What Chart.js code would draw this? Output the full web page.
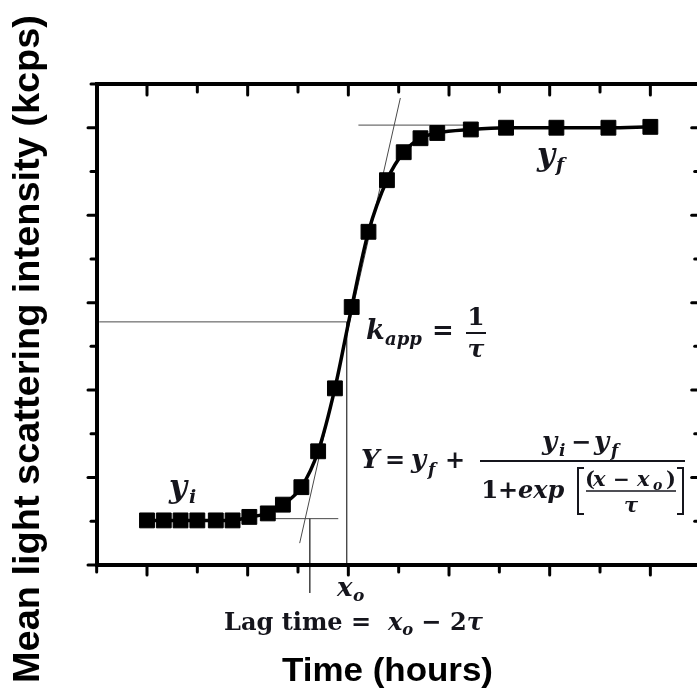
<!DOCTYPE html>
<html><head><meta charset="utf-8">
<script src="https://cdn.jsdelivr.net/npm/chart.js@4.4.1/dist/chart.umd.min.js"></script>
<style>html,body{margin:0;padding:0;background:#fff;}canvas{display:block;}</style>
</head><body>
<canvas id="c" width="697" height="692"></canvas>
<script>
// ---- data ----
const timeHours = [0, 1, 2, 3, 4.1, 5.1, 6.1, 7.2, 8.1, 9.2, 10.2, 11.2, 12.2, 13.2, 14.3, 15.3, 16.3, 17.3, 19.3, 21.4, 24.4, 27.5, 30];
const intensity = [0.51, 0.51, 0.51, 0.51, 0.51, 0.51, 0.55, 0.59, 0.69, 0.89, 1.30, 2.02, 2.95, 3.81, 4.40, 4.72, 4.88, 4.94, 4.98, 5.0, 5.0, 5.0, 5.01];
const xMajorTicks = [0, 6, 12, 18, 24, 30];
const xMinorTicks = [-3, 3, 9, 15, 21, 27, 33];
const yMajorTicks = [0, 1, 2, 3, 4, 5];
const yMinorTicks = [0.5, 1.5, 2.5, 3.5, 4.5, 5.5];
const xTitle = 'Time (hours)';
const yTitle = 'Mean light scattering intensity (kcps)';
// guide lines (data units)
const yfGuideX = [12.6, 19.3];
const yfGuideY = [5.03, 5.03];
const tangentX = [9.1, 15.1];
const tangentY = [0.25, 5.34];
const midGuideX = [-2.85, 11.9];
const midGuideY = [2.78, 2.78];
const x0GuideX = [11.9, 11.9];
const x0GuideY = [2.78, 0];
const yiGuideX = [7.5, 11.4];
const yiGuideY = [0.53, 0.53];
const lagGuideX = [9.7, 9.7];
const lagGuideY = [0.53, -0.32];

const pts = (xs, ys) => xs.map((v, i) => ({x: v, y: ys[i]}));
const guide = (xs, ys) => ({
  data: pts(xs, ys), borderColor: '#4a4a4a', borderWidth: 1, pointRadius: 0,
  tension: 0, clip: false, order: 2
});

const SERIF = '"DejaVu Serif", "Liberation Serif", serif';
const INK = '#15151c';

const textPlugin = {
  id: 'deco',
  afterDatasetsDraw(chart) {
    const {ctx, chartArea: a, scales: {x, y}} = chart;
    ctx.save();
    const ln = (x1, y1, x2, y2) => { ctx.beginPath(); ctx.moveTo(x1, y1); ctx.lineTo(x2, y2); ctx.stroke(); };
    ctx.strokeStyle = '#000';
    // ticks
    ctx.lineWidth = 3; ctx.lineCap = 'round';
    const xr = x.getPixelForValue(33);
    yMajorTicks.concat(yMinorTicks).forEach(v => {
      const len = yMajorTicks.includes(v) ? 9 : 6;
      const py = y.getPixelForValue(v);
      ln(a.left - len, py, a.left, py);
      ln(xr - len, py, xr, py);
    });
    xMajorTicks.concat(xMinorTicks).forEach(v => {
      const len = xMajorTicks.includes(v) ? 10 : 7;
      const px = x.getPixelForValue(v);
      ln(px, a.bottom, px, a.bottom + len);
      ln(px, a.top, px, a.top + len + 1);
    });
    // frame
    ctx.lineWidth = 4; ctx.lineCap = 'square';
    ctx.beginPath();
    ctx.moveTo(a.left, a.top); ctx.lineTo(xr, a.top); ctx.lineTo(xr, a.bottom);
    ctx.lineTo(a.left, a.bottom); ctx.closePath(); ctx.stroke();

    // text helpers
    ctx.fillStyle = INK;
    ctx.textBaseline = 'alphabetic';
    const f = (size, it) => (it ? 'italic ' : '') + 'bold ' + size + 'px ' + SERIF;
    const t = (s, px, py, size, it, align) => {
      ctx.font = f(size, it); ctx.textAlign = align || 'left'; ctx.fillText(s, px, py);
    };
    const runFit = (parts, px, py, target) => {
      let w = 0;
      parts.forEach(p => { ctx.font = p[3] || f(p[1], p[2]); w += ctx.measureText(p[0]).width; });
      const sx = target ? target / w : 1;
      ctx.save(); ctx.translate(px, py); ctx.scale(sx, 1); ctx.textAlign = 'left';
      let cx = 0;
      parts.forEach(p => { ctx.font = p[3] || f(p[1], p[2]); ctx.fillText(p[0], cx, p[4] || 0); cx += ctx.measureText(p[0]).width; });
      ctx.restore();
    };

    // y_i, y_f
    t('y', 169, 497, 31, true); t('i', 189, 503, 19, true);
    t('y', 537, 165, 31, true); t('f', 556, 171, 19, true);

    // k_app = 1/tau
    t('k', 366, 339, 27, true); t('app', 385, 345, 18, true);
    t('=', 432, 339, 26, false);
    t('1', 476, 325, 25, false, 'center');
    ctx.lineWidth = 2; ctx.lineCap = 'butt'; ctx.strokeStyle = INK;
    ln(466, 333, 486, 333);
    t('\u03C4', 476, 357, 25, true, 'center');

    // Y = y_f + (y_i - y_f) / (1 + exp[(x - x_o)/tau])
    t('Y', 361, 468, 26, true);
    t('=', 385, 468, 24, false);
    t('y', 411, 468, 26, true); t('f', 428, 475, 17, true);
    t('+', 445, 468, 24, false);
    ln(480, 461, 685, 461);
    t('y', 542, 450, 26, true); t('i', 559, 456, 17, true);
    t('\u2212', 571, 450, 24, false);
    t('y', 594, 450, 26, true); t('f', 611, 456, 17, true);
    t('1', 481, 498, 25, false);
    t('+', 498, 498, 24, false);
    t('exp', 518, 498, 24, true);
    ctx.lineWidth = 2;
    ctx.beginPath(); ctx.moveTo(584, 468); ctx.lineTo(578, 468); ctx.lineTo(578, 514); ctx.lineTo(584, 514); ctx.stroke();
    ctx.beginPath(); ctx.moveTo(677, 468); ctx.lineTo(683, 468); ctx.lineTo(683, 514); ctx.lineTo(677, 514); ctx.stroke();
    t('(', 585, 486, 21, false);
    t('x', 593, 486, 21, true);
    t('\u2212', 613, 486, 20, false);
    t('x', 637, 486, 21, true); t('o', 653, 490, 14, true);
    t(')', 666, 486, 21, false);
    ctx.lineWidth = 1.5;
    ln(586, 491, 676, 491);
    t('\u03C4', 631, 512, 21, true, 'center');

    // x_o under the axis
    t('x', 337, 596, 26, true); t('o', 353, 601, 17, true);

    // Lag time = x_o - 2 tau
    runFit([
      ['Lag time = ', 25, false], [' ', 25, false],
      ['x', 25, true], ['o', 17, true, null, 5],
      [' \u2212 2', 25, false], ['\u03C4', 25, true]
    ], 224, 630, 259);

    // axis titles
    const SANS = 'bold 34px "Liberation Sans", Arial, sans-serif';
    ctx.fillStyle = '#000';
    runFit([[xTitle, 0, false, SANS]], 282, 681, 211);
    ctx.save();
    ctx.translate(39, 683); ctx.rotate(-Math.PI / 2);
    runFit([[yTitle, 0, false, 'bold 37px "Liberation Sans", Arial, sans-serif']], 0, 0, 668);
    ctx.restore();

    ctx.restore();
  }
};

new Chart(document.getElementById('c'), {
  type: 'line',
  data: {
    datasets: [
      {
        data: pts(timeHours, intensity),
        borderColor: '#000', backgroundColor: '#000', borderWidth: 3.5,
        cubicInterpolationMode: 'monotone',
        pointStyle: 'rect', pointRadius: 10.5, pointBorderWidth: 1,
        pointBackgroundColor: '#000', pointBorderColor: '#000', order: 1, clip: false
      },
      guide(yfGuideX, yfGuideY),
      guide(tangentX, tangentY),
      guide(midGuideX, midGuideY),
      guide(x0GuideX, x0GuideY),
      guide(yiGuideX, yiGuideY),
      guide(lagGuideX, lagGuideY)
    ]
  },
  options: {
    responsive: false, animation: false, devicePixelRatio: 1,
    layout: {autoPadding: false, padding: {left: 97, top: 84, right: 0, bottom: 127}},
    plugins: {legend: {display: false}, tooltip: {enabled: false}},
    events: [],
    scales: {
      x: {type: 'linear', display: false, min: -2.98, max: 32.78},
      y: {type: 'linear', display: false, min: 0, max: 5.5}
    }
  },
  plugins: [textPlugin]
});
</script>
</body></html>
